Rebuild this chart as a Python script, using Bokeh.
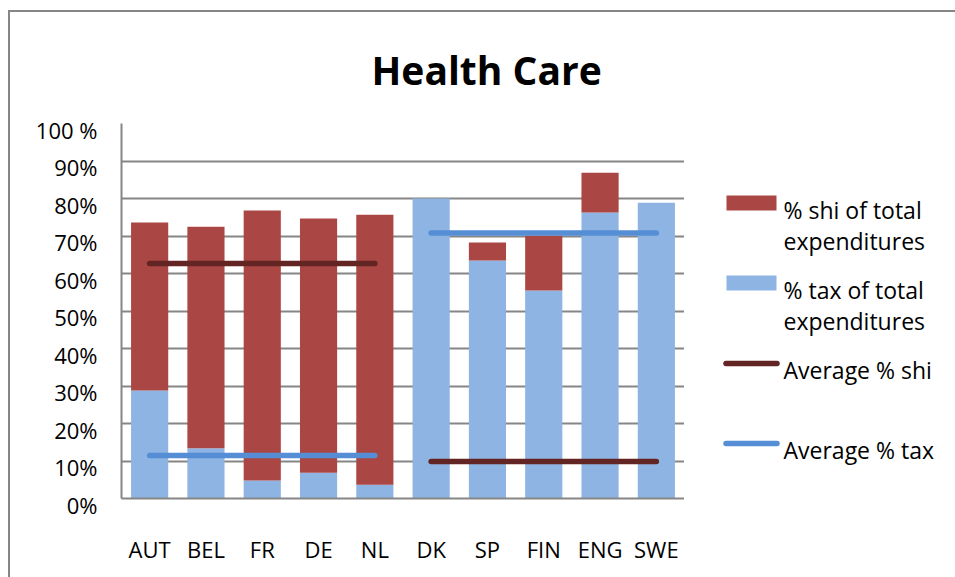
from bokeh.plotting import figure
from bokeh.models import FactorRange, Range1d, FixedTicker
from bokeh.layouts import row
from bokeh.core.properties import value
from bokeh.embed import file_html
from bokeh.resources import INLINE

# ---------------- data ----------------
countries = ["AUT", "BEL", "FR", "DE", "NL", "DK", "SP", "FIN", "ENG", "SWE"]
shi_share = [44.8, 59.1, 72.0, 67.8, 72.0, 0.0, 4.8, 14.6, 10.6, 0.0]
tax_share = [28.8, 13.4, 4.8, 6.9, 3.7, 80.0, 63.5, 55.5, 76.3, 78.9]

group_ends = [["AUT", "NL"], ["DK", "SWE"]]
avg_shi = [62.7, 9.9]
avg_tax = [11.5, 70.8]

y_ticks = [0, 10, 20, 30, 40, 50, 60, 70, 80, 90, 100]
y_tick_labels = ["0%", "10%", "20%", "30%", "40%", "50%", "60%", "70%", "80%", "90%", "100 %"]

title_text = "Health Care"
legend_labels = [
    ["% shi of total", "expenditures"],
    ["% tax of total", "expenditures"],
    ["Average % shi"],
    ["Average % tax"],
]

# ---------------- style ----------------
SHI = "#AA4643"
TAX = "#8DB4E2"
AVG_SHI = "#632523"
AVG_TAX = "#558ED5"
GRID = "#868686"
FONT = "Open Sans"

# ---------------- main chart ----------------
p = figure(
    x_range=FactorRange(*countries, range_padding=0.0),
    y_range=Range1d(0, 100),
    width=674, height=565,
    min_border_left=111, min_border_right=0,
    min_border_top=111, min_border_bottom=79,
    output_backend="svg", toolbar_location=None,
)
p.outline_line_color = None
p.background_fill_color = "white"
p.border_fill_color = "white"

bars = p.vbar_stack(["tax", "shi"], x="country", width=0.66,
                    source=dict(country=countries, tax=tax_share, shi=shi_share),
                    color=[TAX, SHI], line_color=None)

for ends, v in zip(group_ends, avg_shi):
    p.line(x=ends, y=[v, v], line_color=AVG_SHI, line_width=5.5, line_cap="round")
for ends, v in zip(group_ends, avg_tax):
    p.line(x=ends, y=[v, v], line_color=AVG_TAX, line_width=5.5, line_cap="round")

# title
p.title.text = title_text
p.title.text_font = FONT
p.title.text_font_style = "bold"
p.title.text_font_size = "39px"
p.title.text_color = "black"
p.title.align = "left"
p.title.offset = 250
p.title.standoff = 56

# axes
p.xgrid.grid_line_color = None
p.ygrid.grid_line_color = GRID
p.ygrid.grid_line_width = 2
p.yaxis.ticker = FixedTicker(ticks=y_ticks)
p.yaxis.major_label_overrides = {t: "\n" + s for t, s in zip(y_ticks, y_tick_labels)}
p.yaxis.major_label_text_line_height = 0.43
for ax in (p.xaxis, p.yaxis):
    ax.axis_line_color = GRID
    ax.axis_line_width = 2
    ax.major_tick_line_color = None
    ax.minor_tick_line_color = None
    ax.major_tick_out = 0
    ax.major_tick_in = 0
    ax.major_label_text_font = FONT
    ax.major_label_text_font_size = "22px"
    ax.major_label_text_color = "black"
p.yaxis.major_label_standoff = 24
p.xaxis.major_label_standoff = 35

# ---------------- legend panel (to the right of the chart) ----------------
# its frame is aligned with the chart's plot area; coordinates are page pixels
lg = figure(
    x_range=Range1d(684, 955), y_range=Range1d(498, 123),
    width=271, height=565, min_border=0,
    output_backend="svg", toolbar_location=None,
)
lg.axis.visible = False
lg.grid.visible = False
lg.outline_line_color = None
lg.background_fill_color = "white"
lg.border_fill_color = "white"

lg.quad(left=[726, 726], right=[776, 776], top=[195, 275], bottom=[210, 290],
        color=[SHI, TAX], line_color=None)
lg.segment(x0=[725.5, 725.5], x1=[776.5, 776.5], y0=[363, 443], y1=[363, 443],
           line_color=[AVG_SHI, AVG_TAX], line_width=5.5, line_cap="round")

legend_baselines = [[209, 240], [289, 320], [369], [449]]
txt_x, txt_y, txt = [], [], []
for lines, ys in zip(legend_labels, legend_baselines):
    for t, yb in zip(lines, ys):
        txt_x.append(783)
        txt_y.append(yb)
        txt.append(t)
lg.text(x=txt_x, y=txt_y, text=txt, text_font=value(FONT), text_font_size="23px",
        text_color="black", text_align="left", text_baseline="alphabetic")

layout = row(p, lg, spacing=0)
# outer frame of the original figure box (its left and top edges are visible)
layout.styles = {"margin-left": "8px", "margin-top": "10px",
                 "border-left": f"2px solid {GRID}", "border-top": f"2px solid {GRID}"}

open("out.html", "w").write(file_html(layout, INLINE))
